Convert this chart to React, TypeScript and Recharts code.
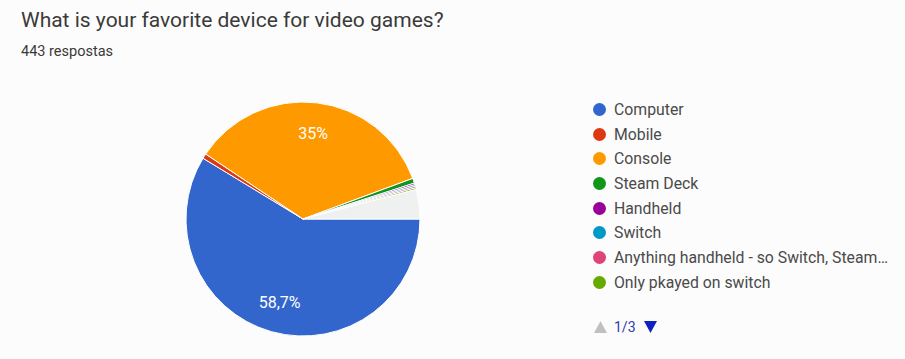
import { Cell, Pie, PieChart } from 'recharts';

const TITLE = 'What is your favorite device for video games?';
const SUBTITLE = '443 respostas';

// answers shown on page 1 of the legend
const LABELS = [
  'Computer',
  'Mobile',
  'Console',
  'Steam Deck',
  'Handheld',
  'Switch',
  'Anything handheld - so Switch, Steam…',
  'Only pkayed on switch',
];
const COUNTS = [260, 3, 155, 3, 1, 1, 1, 1];
const COLORS = ['#3366cc', '#dc3912', '#ff9900', '#109618', '#990099', '#0099c6', '#dd4477', '#66aa00'];

// answers on legend pages 2–3, drawn as one pale slice
const OTHER_COUNT = 18;
const OTHER_COLOR = '#eff1f0';

const TOTAL = 443;
const FONT = 'Roboto, Arial, sans-serif';

const RADIAN = Math.PI / 180;

function pct(v: number): string {
  const p = Math.round((v / TOTAL) * 1000) / 10;
  return `${p}`.replace('.', ',') + '%';
}

function renderLabel(props: any) {
  const { cx, cy, midAngle, outerRadius, value } = props;
  if (value / TOTAL < 0.05) return null;
  const r = outerRadius * 0.74;
  const x = cx + r * Math.cos(-midAngle * RADIAN);
  const y = cy + r * Math.sin(-midAngle * RADIAN);
  return (
    <text x={x} y={y} fill="#fff" fontSize={16} fontFamily={FONT} textAnchor="middle" dominantBaseline="central">
      {pct(value)}
    </text>
  );
}

export default function App() {
  const data = [
    ...LABELS.map((name, i) => ({ name, value: COUNTS[i], color: COLORS[i] })),
    { name: 'other', value: OTHER_COUNT, color: OTHER_COLOR },
  ];
  return (
    <div
      style={{
        position: 'absolute',
        left: 0,
        top: 0,
        width: 905,
        height: 359,
        background: '#fcfcfc',
        fontFamily: FONT,
        overflow: 'hidden',
      }}
    >
      <div style={{ position: 'absolute', left: 21, top: 8, fontSize: 21, color: '#3a3a3a' }}>{TITLE}</div>
      <div style={{ position: 'absolute', left: 21, top: 43, fontSize: 14.5, color: '#3a3a3a' }}>{SUBTITLE}</div>

      <div style={{ position: 'absolute', left: 0, top: 0 }}>
        <PieChart width={905} height={359} margin={{ top: 0, right: 0, bottom: 0, left: 0 }}>
          <Pie
            data={data}
            dataKey="value"
            nameKey="name"
            cx={303}
            cy={219}
            outerRadius={117}
            startAngle={0}
            endAngle={-360}
            stroke="#fff"
            strokeWidth={1}
            label={renderLabel}
            labelLine={false}
            isAnimationActive={false}
          >
            {data.map((d) => (
              <Cell key={d.name} fill={d.color} />
            ))}
          </Pie>
        </PieChart>
      </div>

      <ul style={{ position: 'absolute', left: 593, top: 97, margin: 0, padding: 0, listStyle: 'none' }}>
        {LABELS.map((name, i) => (
          <li key={name} style={{ display: 'flex', alignItems: 'center', height: 24.7, fontSize: 15.8, color: '#4a4a4a' }}>
            <span
              style={{ width: 13, height: 13, borderRadius: 7, background: COLORS[i], marginRight: 8, display: 'inline-block' }}
            />
            {name}
          </li>
        ))}
      </ul>

      <div style={{ position: 'absolute', left: 593, top: 319, display: 'flex', alignItems: 'center', fontSize: 14 }}>
        <svg width={15} height={14}>
          <polygon points="7.5,1 14,13 1,13" fill="#c0c0c0" />
        </svg>
        <span style={{ color: '#2a3bb5', margin: '0 7px 0 6px' }}>1/3</span>
        <svg width={15} height={14}>
          <polygon points="1,1 14,1 7.5,13" fill="#0e22c0" />
        </svg>
      </div>
    </div>
  );
}
